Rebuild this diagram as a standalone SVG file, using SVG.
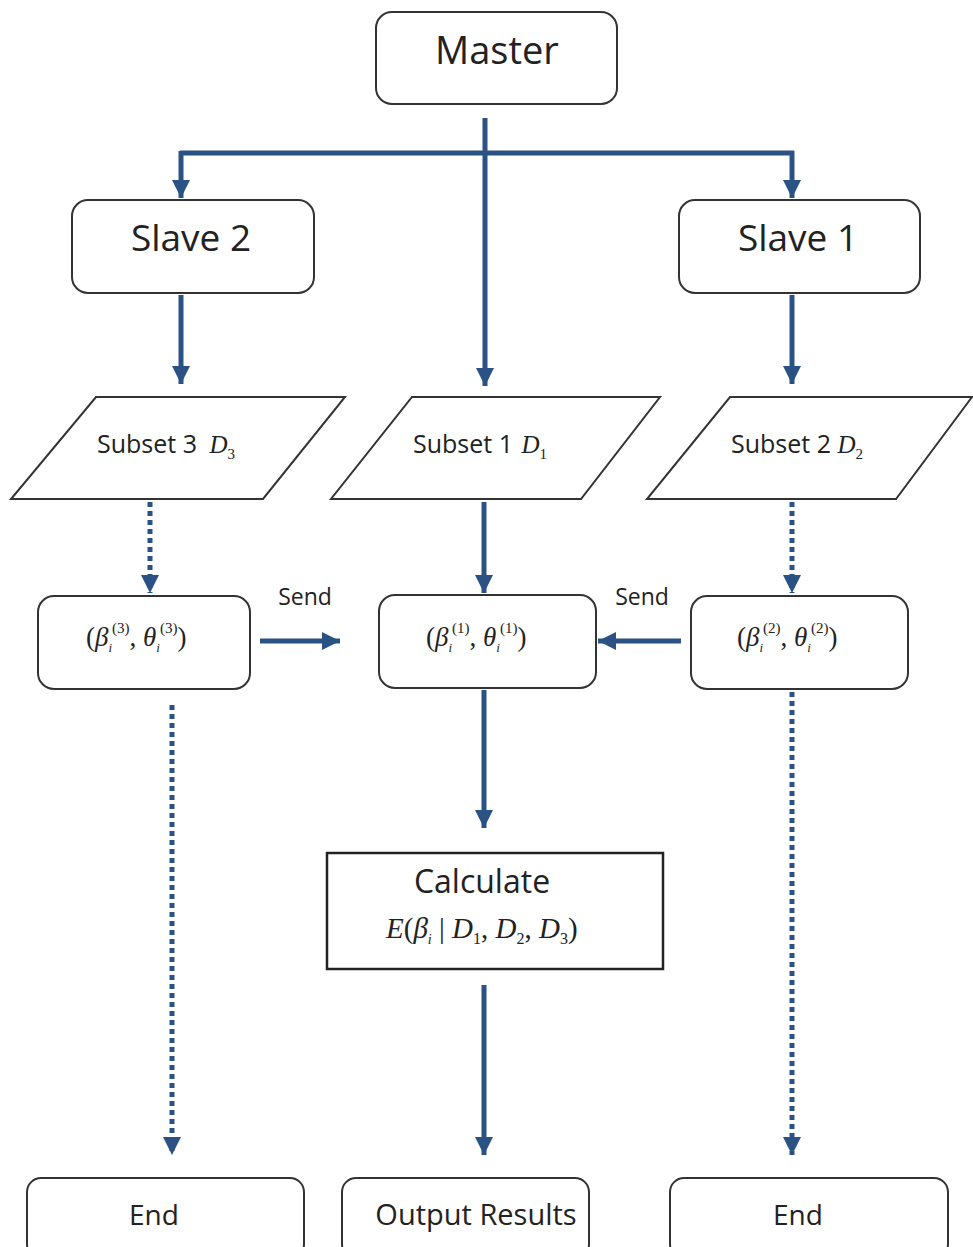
<svg xmlns="http://www.w3.org/2000/svg" width="973" height="1247" viewBox="0 0 973 1247">
<defs>
<marker id="ah" markerUnits="userSpaceOnUse" markerWidth="18" markerHeight="18" viewBox="0 0 18 18" refX="18" refY="9" orient="auto">
<path d="M0,0 L18,9 L0,18 Z" fill="#2B5285"/>
</marker>
</defs>
<style>
.box{fill:#fff;stroke:#333;stroke-width:2}
.ln{stroke:#2B5285;stroke-width:5;fill:none}
.arr{stroke:#2B5285;stroke-width:5;fill:none;marker-end:url(#ah)}
.dot{stroke:#2B5285;stroke-width:5;fill:none;stroke-dasharray:5 4;marker-end:url(#ah)}
.t{font-family:"Open Sans","Liberation Sans",sans-serif;fill:#222;text-anchor:middle}
.m{font-family:"Liberation Serif",serif;font-style:italic;fill:#222}
</style>
<rect width="973" height="1247" fill="#fff"/>
<g id="connectors">
<path class="arr" d="M485,118 V386"/>
<path class="ln" d="M180,153 H794"/>
<path class="arr" d="M181,151 V198"/>
<path class="arr" d="M792,151 V198"/>
<path class="arr" d="M181,295 V384"/>
<path class="arr" d="M792,295 V384"/>
<path class="dot" d="M150,502 V593"/>
<path class="arr" d="M484,502 V593"/>
<path class="dot" d="M792,502 V593"/>
<path class="arr" d="M260,641 H340"/>
<path class="arr" d="M681,641 H598"/>
<path class="arr" d="M484,690 V828"/>
<path class="arr" d="M484,985 V1155"/>
<path class="dot" d="M172,705 V1155"/>
<path class="dot" d="M792,692 V1155"/>
<text class="t" x="305" y="605" font-size="23">Send</text>
<text class="t" x="642" y="605" font-size="23">Send</text>
</g>
<g id="master"><rect class="box" x="376" y="12" width="241" height="92" rx="16"/><text class="t" x="497" y="64" font-size="38">Master</text></g>
<g id="slave2"><rect class="box" x="72" y="200" width="242" height="93" rx="16"/><text class="t" x="191" y="251" font-size="37">Slave 2</text></g>
<g id="slave1"><rect class="box" x="679" y="200" width="241" height="93" rx="16"/><text class="t" x="798" y="251" font-size="37">Slave 1</text></g>
<g id="subset3"><path class="box" d="M96,397 H345 L263,499 H11 Z"/><text y="453" font-size="25"><tspan class="t" style="text-anchor:start" x="97">Subset 3 </tspan><tspan class="m" dx="6">D</tspan><tspan class="m" font-size="15" dy="6" style="font-style:normal">3</tspan></text></g>
<g id="subset1"><path class="box" d="M412,397 H660 L581,499 H331 Z"/><text y="453" font-size="25"><tspan class="t" style="text-anchor:start" x="413">Subset 1 </tspan><tspan class="m" dx="2">D</tspan><tspan class="m" font-size="15" dy="6" style="font-style:normal">1</tspan></text></g>
<g id="subset2"><path class="box" d="M730,397 H972 L896,499 H647 Z"/><text y="453" font-size="25"><tspan class="t" style="text-anchor:start" x="731">Subset 2 </tspan><tspan class="m">D</tspan><tspan class="m" font-size="15" dy="6" style="font-style:normal">2</tspan></text></g>
<g id="param3"><rect class="box" x="38" y="596" width="212" height="93" rx="16"/><text class="m" y="646" font-size="27"><tspan x="86" style="font-style:normal">(</tspan><tspan>β</tspan><tspan font-size="13" dy="6">i</tspan><tspan font-size="15" dy="-19" style="font-style:normal">(3)</tspan><tspan dy="13" style="font-style:normal">, </tspan><tspan>θ</tspan><tspan font-size="13" dy="6">i</tspan><tspan font-size="15" dy="-19" style="font-style:normal">(3)</tspan><tspan dy="13" style="font-style:normal">)</tspan></text></g>
<g id="param1"><rect class="box" x="379" y="595" width="217" height="93" rx="16"/><text class="m" y="646" font-size="27"><tspan x="426" style="font-style:normal">(</tspan><tspan>β</tspan><tspan font-size="13" dy="6">i</tspan><tspan font-size="15" dy="-19" style="font-style:normal">(1)</tspan><tspan dy="13" style="font-style:normal">, </tspan><tspan>θ</tspan><tspan font-size="13" dy="6">i</tspan><tspan font-size="15" dy="-19" style="font-style:normal">(1)</tspan><tspan dy="13" style="font-style:normal">)</tspan></text></g>
<g id="param2"><rect class="box" x="691" y="596" width="217" height="93" rx="16"/><text class="m" y="646" font-size="27"><tspan x="737" style="font-style:normal">(</tspan><tspan>β</tspan><tspan font-size="13" dy="6">i</tspan><tspan font-size="15" dy="-19" style="font-style:normal">(2)</tspan><tspan dy="13" style="font-style:normal">, </tspan><tspan>θ</tspan><tspan font-size="13" dy="6">i</tspan><tspan font-size="15" dy="-19" style="font-style:normal">(2)</tspan><tspan dy="13" style="font-style:normal">)</tspan></text></g>
<g id="calculate"><rect x="327" y="853" width="336" height="116" fill="#fff" stroke="#222" stroke-width="2.5"/><text class="t" x="482" y="893" font-size="32">Calculate</text><text class="m" y="938" font-size="29"><tspan x="386">E</tspan><tspan style="font-style:normal">(</tspan><tspan>β</tspan><tspan font-size="14" dy="6">i</tspan><tspan dy="-6" style="font-style:normal"> | </tspan><tspan>D</tspan><tspan font-size="16" dy="6" style="font-style:normal">1</tspan><tspan dy="-6" style="font-style:normal">, </tspan><tspan>D</tspan><tspan font-size="16" dy="6" style="font-style:normal">2</tspan><tspan dy="-6" style="font-style:normal">, </tspan><tspan>D</tspan><tspan font-size="16" dy="6" style="font-style:normal">3</tspan><tspan dy="-6" style="font-style:normal">)</tspan></text></g>
<g id="end2"><rect class="box" x="27" y="1178" width="277" height="80" rx="14"/><text class="t" x="154" y="1225" font-size="28">End</text></g>
<g id="output"><rect class="box" x="342" y="1178" width="247" height="80" rx="14"/><text class="t" x="476" y="1225" font-size="29">Output Results</text></g>
<g id="end1"><rect class="box" x="670" y="1178" width="278" height="80" rx="14"/><text class="t" x="798" y="1225" font-size="28">End</text></g>
</svg>
